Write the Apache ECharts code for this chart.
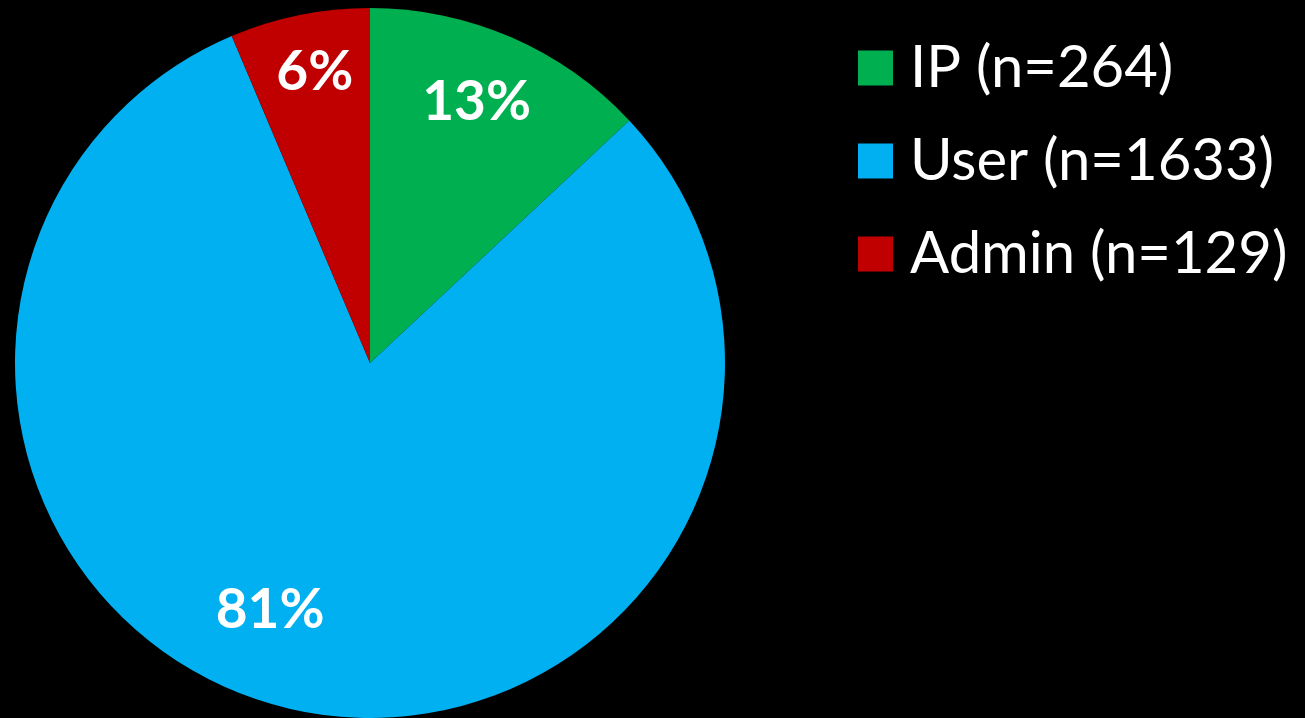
<!DOCTYPE html>
<html>
<head>
<meta charset="utf-8">
<script src="https://cdn.jsdelivr.net/npm/echarts@6/dist/echarts.min.js"></script>
<style>
html,body{margin:0;padding:0;background:#000;}
#chart{width:1305px;height:718px;}
</style>
</head>
<body>
<div id="chart"></div>
<script>
const categories = ['IP', 'User', 'Admin'];
const counts = [264, 1633, 129];
const colors = ['#00B050', '#00B0F0', '#C00000'];

const total = counts.reduce((a, b) => a + b, 0);
const legendNames = categories.map((c, i) => c + ' (n=' + counts[i] + ')');
const labelOffsets = [[-8, 3], [-40, -34], [2, -8]];

const chart = echarts.init(document.getElementById('chart'));
chart.setOption({
  backgroundColor: '#000000',
  animation: false,
  legend: {
    orient: 'vertical',
    left: 858,
    top: 39,
    padding: 0,
    itemWidth: 35,
    itemHeight: 35,
    itemGap: 35,
    icon: 'rect',
    selectedMode: false,
    data: legendNames.map((n, i) => ({ name: n, itemStyle: { color: colors[i], borderWidth: 0 } })),
    textStyle: {
      color: '#ffffff',
      fontFamily: 'Lato',
      fontSize: 58,
      lineHeight: 35,
      padding: [0, 0, 0, 12]
    }
  },
  series: [
    {
      type: 'pie',
      center: [370, 363],
      radius: [0, 355],
      startAngle: 90,
      clockwise: true,
      silent: true,
      label: { show: false },
      labelLine: { show: false },
      itemStyle: { borderWidth: 0 },
      data: counts.map((v, i) => ({ name: legendNames[i], value: v, itemStyle: { color: colors[i] } }))
    },
    {
      type: 'pie',
      center: [370, 363],
      radius: [215, 355],
      startAngle: 90,
      clockwise: true,
      silent: true,
      legendHoverLink: false,
      itemStyle: { color: 'transparent', borderWidth: 0 },
      labelLine: { show: false },
      label: {
        show: true,
        position: 'inside',
        color: '#ffffff',
        fontFamily: 'Lato',
        fontWeight: 'bold',
        fontSize: 55,
        formatter: p => Math.round(p.value / total * 100) + '%'
      },
      data: counts.map((v, i) => ({
        name: legendNames[i] + ' ',
        value: v,
        label: { offset: labelOffsets[i] }
      }))
    }
  ]
});
</script>
</body>
</html>
